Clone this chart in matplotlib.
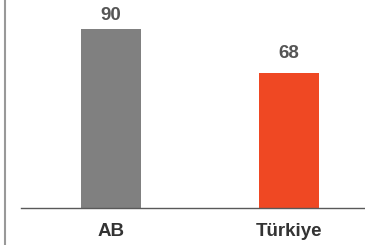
import numpy as np
import matplotlib.pyplot as plt
from matplotlib.lines import Line2D

# data
categories = ['AB', 'Türkiye']
values = [90, 68]
colors = ['#808080', '#ef4823']

plt.rcParams['font.family'] = ['Liberation Sans', 'DejaVu Sans']

fig = plt.figure(figsize=(3.65, 2.45), dpi=100)
ax = fig.add_axes([21/365, 37/245, 344/365, 208/245])

x = np.arange(len(categories))
bars = ax.bar(x, values, width=0.337, color=colors)

label_gap = [4.5, 7.4]  # gap between bar top and label baseline
for xi, v, g in zip(x, values, label_gap):
    ax.text(xi, v + g, str(v), ha='center', va='baseline',
            fontsize=13.5, fontweight='bold', color='#555555')

ax.set_xlim(-0.506, 1.427)
ax.set_ylim(0, 104.5)
ax.set_xticks(x)
ax.set_xticklabels(categories, fontsize=13.5, fontweight='bold', color='#333333')
ax.tick_params(axis='x', length=0, pad=11)
ax.set_yticks([])
for side in ['top', 'right', 'left']:
    ax.spines[side].set_visible(False)
ax.spines['bottom'].set_color('#595959')
ax.spines['bottom'].set_linewidth(1.0)

# left frame line
fig.add_artist(Line2D([4.5/365, 4.5/365], [0, 1], color='#999999', lw=1.5,
                      transform=fig.transFigure))

fig.savefig('out.png', dpi=100)
